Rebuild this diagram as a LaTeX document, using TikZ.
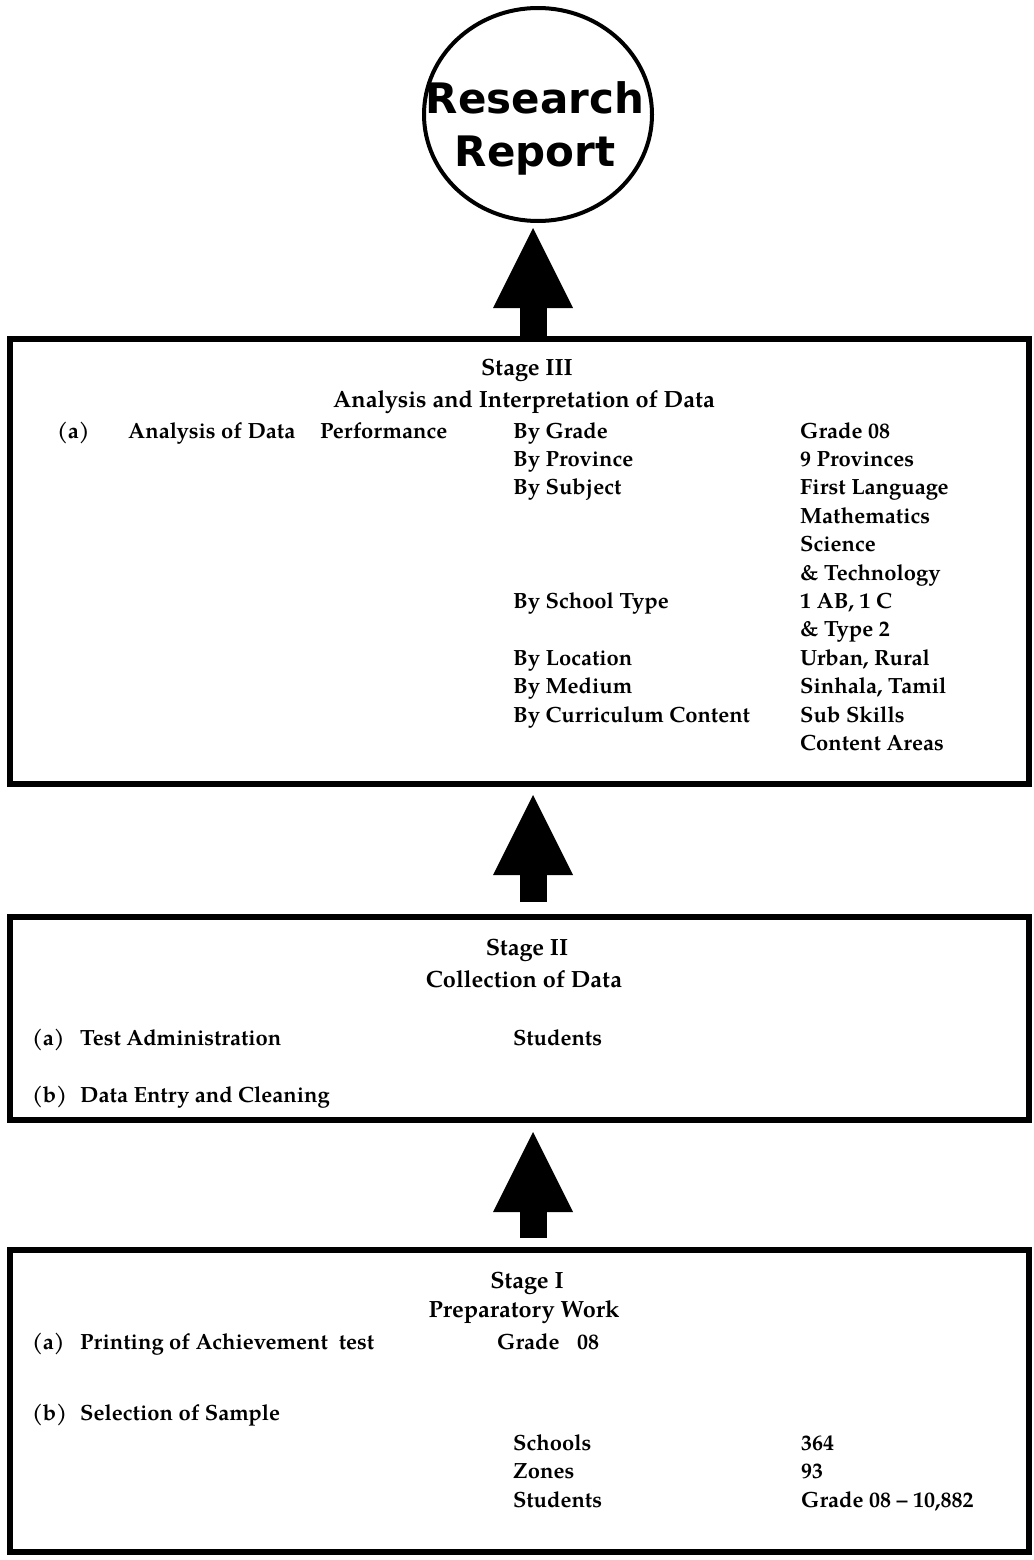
\documentclass[tikz,border=0pt]{standalone}
\usepackage{fontspec}
\setmainfont{TeX Gyre Pagella}
\newfontfamily\reportfont{DejaVu Sans}
\usetikzlibrary{
    shapes.geometric,
    arrows.meta,
    positioning
}

\tikzset{
    stagebox/.style={draw, line width=6pt, inner sep=0pt, minimum width=1019.5pt},
    txt/.style={anchor=west, inner sep=0pt, font=\fontsize{22}{26}\selectfont\bfseries,
        text height=15pt, text depth=5pt},
    head/.style={txt, anchor=center, font=\fontsize{23.5}{28}\selectfont\bfseries},
    bigarrow/.style={line width=27pt, -{Triangle[width=80pt, length=80pt, line width=0pt]}}
}

\begin{document}
\begin{tikzpicture}[x=1pt, y=-1pt]
    \useasboundingbox (0, 0) rectangle (1033, 1560);

    % report at the top
    \node[draw, ellipse, line width=4pt, inner sep=0pt, minimum width=228pt, minimum height=213pt] (rr) at (538, 114.5) {};
    \node[font=\reportfont\bfseries\fontsize{42}{53}\selectfont, align=center] (rrtext) at (535, 128) {Research\\Report};

    % the three stages
    \node[stagebox, minimum height=445pt] (s3) at (519.25, 561.5) {};
    \node[stagebox, minimum height=203pt] (s2) at (519.25, 1018.5) {};
    \node[stagebox, minimum height=302pt] (s1) at (519.25, 1401) {};

    % block arrows
    \draw[bigarrow] ([xshift=13.75pt]s3.north) -- ([xshift=-5pt, yshift=-5pt]rr.south);
    \draw[bigarrow] ([xshift=13.75pt, yshift=12pt]s2.north) -- ([xshift=13.75pt, yshift=-8pt]s3.south);
    \draw[bigarrow] ([xshift=13.75pt, yshift=9pt]s1.north) -- ([xshift=13.75pt, yshift=-9pt]s2.south);

    % stage III
    \node[head] (s3title) at (527, 370) {Stage III};
    \node[head] (s3sub) at (524, 402) {Analysis and Interpretation of Data};
    \node[txt] (s3a) at (57, 433) {(a)};
    \node[txt] (s3ana) at (128, 433) {Analysis of Data};
    \node[txt] (s3perf) at (320, 433) {Performance};
    \foreach \lbl/\i in {By Grade/0, By Province/1, By Subject/2, By School Type/6,
                         By Location/8, By Medium/9, By Curriculum Content/10} {
        \node[txt] (by\i) at (513, {433 + 28.4*\i}) {\lbl};
    }
    \foreach \val [count=\i from 0] in {Grade 08, 9 Provinces, First Language, Mathematics,
                         Science, \& Technology, {1 AB, 1 C}, \& Type 2, {Urban, Rural},
                         {Sinhala, Tamil}, Sub Skills, Content Areas} {
        \node[txt] (val\i) at (800, {433 + 28.4*\i}) {\val};
    }

    % stage II
    \node[head] (s2title) at (527, 950) {Stage II};
    \node[head] (s2sub) at (524, 982) {Collection of Data};
    \node[txt] (s2a) at (32, 1040) {(a)};
    \node[txt] (s2test) at (80, 1040) {Test Administration};
    \node[txt] (s2stud) at (513, 1040) {Students};
    \node[txt] (s2b) at (32, 1097) {(b)};
    \node[txt] (s2entry) at (80, 1097) {Data Entry and Cleaning};

    % stage I
    \node[head] (s1title) at (527, 1283) {Stage I};
    \node[head] (s1sub) at (524, 1312) {Preparatory Work};
    \node[txt] (s1a) at (32, 1344) {(a)};
    \node[txt] (s1print) at (80, 1344) {Printing of Achievement\ \ test};
    \node[txt] (s1grade) at (497, 1344) {Grade\hspace{0.8em}08};
    \node[txt] (s1b) at (32, 1415) {(b)};
    \node[txt] (s1sel) at (80, 1415) {Selection of Sample};
    \foreach \lbl/\val [count=\i from 0] in {Schools/364, Zones/93, Students/Grade 08 -- 10{,}882} {
        \node[txt] (smp\i) at (513, {1445 + 28.5*\i}) {\lbl};
        \node[txt] (num\i) at (801, {1445 + 28.5*\i}) {\val};
    }
\end{tikzpicture}
\end{document}
